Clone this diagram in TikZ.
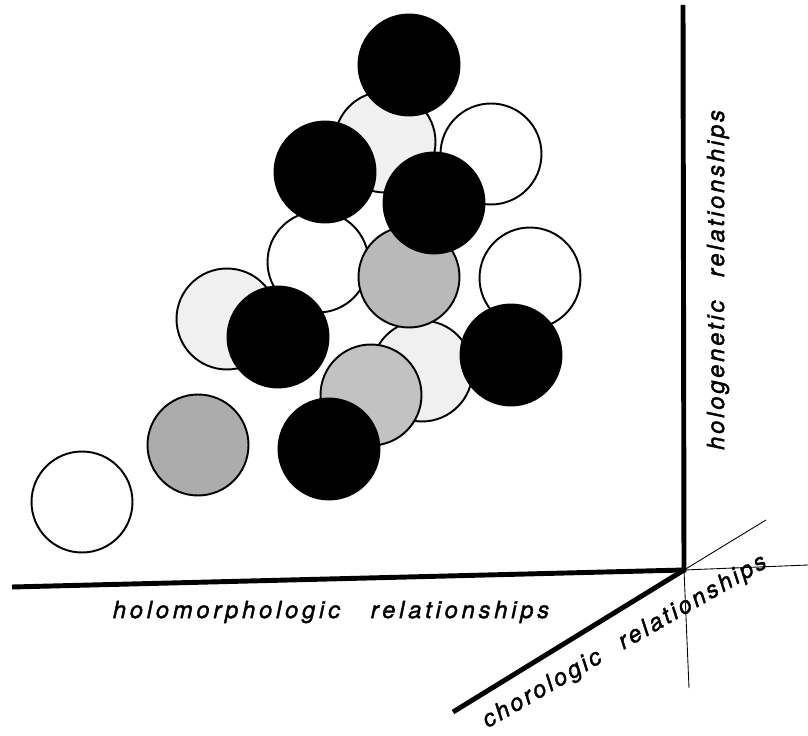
\documentclass[tikz,border=0pt]{standalone}
\usepackage{fontspec}
\newfontfamily\axisfont[LetterSpace=16, FakeBold=1.6]{TeX Gyre Heros}
\newfontfamily\sidefont[LetterSpace=12, FakeBold=1.6]{TeX Gyre Heros}
\usepackage{tikz}

\tikzset{
  blob/.style={circle, draw=black, line width=1.1pt, minimum size=2.02cm, inner sep=0pt},
  axis/.style={line width=2.8pt},
  guide/.style={line width=0.5pt},
  axislabel/.style={font=\axisfont\itshape\fontsize{13.5}{15}\selectfont, inner sep=0pt},
  sidelabel/.style={font=\sidefont\itshape\fontsize{13.5}{15}\selectfont, inner sep=0pt}
}

\begin{document}
\begin{tikzpicture}[x=0.02cm, y=-0.02cm]
  \useasboundingbox (0,0) rectangle (808,736);
  % pale and grey ones first
  \node[blob, fill=white]   (w1) at (82,502)  {};
  \node[blob, fill=white]   (w2) at (491,154) {};
  \node[blob, fill=white]   (w3) at (318,262) {};
  \node[blob, fill=white]   (w4) at (530,278) {};
  \node[blob, fill=gray!12] (p1) at (385,142) {};
  \node[blob, fill=gray!12] (p2) at (227,319) {};
  \node[blob, fill=gray!12] (p3) at (422,371) {};
  \node[blob, fill=gray!55] (g1) at (409,277) {};
  \node[blob, fill=gray!48] (g2) at (371,395) {};
  \node[blob, fill=gray!65] (g3) at (198,445) {};
  % black ones on top
  \node[blob, fill=black]   (b1) at (409,65)  {};
  \node[blob, fill=black]   (b2) at (325,172) {};
  \node[blob, fill=black]   (b3) at (434,203) {};
  \node[blob, fill=black]   (b4) at (278,337) {};
  \node[blob, fill=black]   (b5) at (511,355) {};
  \node[blob, fill=black]   (b6) at (329,449) {};
  % axes
  \coordinate (O)   at (684,570);
  \coordinate (hm)  at (12,587);
  \coordinate (hg)  at (683,5);
  \coordinate (ch)  at (453,712);
  \coordinate (tu)  at (766,520);
  \coordinate (tr)  at (808,565);
  \coordinate (td)  at (689,688);
  \draw[axis] (hm) -- (O) -- (hg);
  \draw[axis] (O) -- (ch);
  \draw[guide] (O) -- (tu);
  \draw[guide] (O) -- (tr);
  \draw[guide] (O) -- (td);
  \node[axislabel] (lhm) at (331,612) {holomorphologic\hspace{1.3em}relationships};
  \node[sidelabel, rotate=90] (lhg) at (718,280) {hologenetic\hspace{1em}relationships};
  \node[sidelabel, rotate=30] (lch) at (625,642) {chorologic\hspace{1em}relationships};
\end{tikzpicture}
\end{document}
